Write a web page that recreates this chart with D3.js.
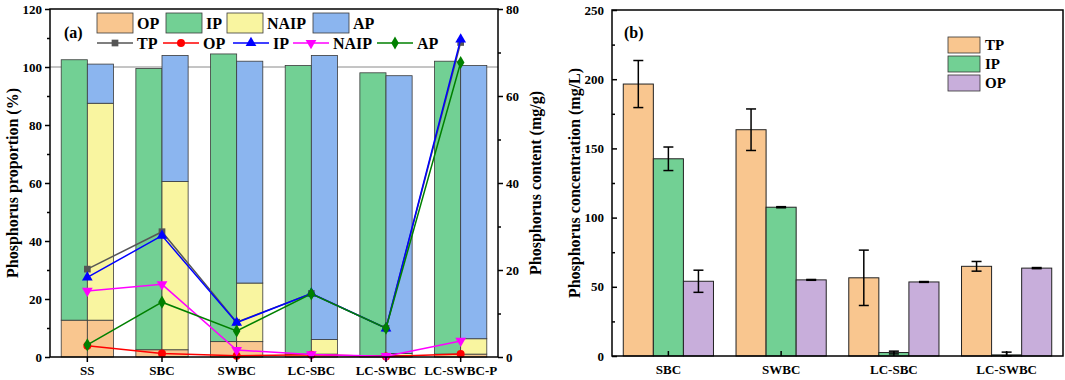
<!DOCTYPE html>
<html><head><meta charset="utf-8">
<script src="https://cdn.jsdelivr.net/npm/d3@7"></script>
<style>
html,body{margin:0;padding:0;background:#fff;}
svg text{font-family:"Liberation Serif","Times New Roman",serif;font-weight:bold;fill:#000;}
</style></head>
<body>
<svg id="chart" width="1065" height="380"></svg>
<script>
// ---------- Panel (a) data ----------
const catsA = ["SS","SBC","SWBC","LC-SBC","LC-SWBC","LC-SWBC-P"];
const opPct   = [12.7, 2.5, 5.3, 1.0, 0.5, 1.0];
const ipPct   = [89.8, 97.0, 99.2, 99.5, 97.5, 101.0];
const naipPct = [74.8, 58.0, 20.2, 5.0, 0.7, 5.3];
const apPct   = [13.5, 43.5, 76.5, 98.0, 95.8, 94.2];
const tpCont   = [20.2, 28.8, 8.0, 14.6, 6.6, 72.3];
const opCont   = [2.6, 0.8, 0.3, 0.5, 0.1, 0.7];
const ipCont   = [18.3, 27.9, 7.9, 14.6, 6.6, 73.0];
const naipCont = [15.2, 16.7, 1.6, 0.6, 0.2, 3.7];
const apCont   = [2.8, 12.6, 6.0, 14.5, 6.6, 67.7];
const leftTicksA = [0, 20, 40, 60, 80, 100, 120];
const rightTicksA = [0, 20, 40, 60, 80];

// ---------- Panel (b) data ----------
const catsB = ["SBC","SWBC","LC-SBC","LC-SWBC"];
const seriesB = ["TP","IP","OP"];
const tpConc = [196.5, 163.5, 56.5, 64.8];
const tpErr  = [17, 15, 20, 3.5];
const ipConc = [142.5, 107.5, 2.5, 0.8];
const ipErr  = [8.5, 0.4, 1, 2];
const opConc = [54, 55, 53.5, 63.5];
const opErr  = [8, 0.3, 0.3, 0.4];
const ticksB = [0, 50, 100, 150, 200, 250];

const C = {op:"#F9C68F", ip:"#72D094", naip:"#F9F5A0", ap:"#8BB5EF", opB:"#C8AEDB"};

const svg = d3.select("#chart");

// ================= Panel (a) =================
const A = {l:50, r:498, t:9, b:357};
const xA = d3.scaleBand().domain(catsA).range([A.l, A.r]).padding(0);
const yA = d3.scaleLinear().domain([0,120]).range([A.b, A.t]);
const y2A = d3.scaleLinear().domain([0,80]).range([A.b, A.t]);
const gA = svg.append("g");
const bw = xA.bandwidth()*0.35;
const cx = c => xA(c) + xA.bandwidth()/2;

// reference line at 100
gA.append("line").attr("x1",A.l).attr("x2",A.r).attr("y1",yA(100)).attr("y2",yA(100))
  .attr("stroke","#8a8a8a").attr("stroke-width",1);

// bars: left bar (OP + IP), right bar (OP + NAIP + AP)
const stackRect = (x0, lo, hi, fill) => gA.append("rect")
  .attr("x", x0).attr("width", bw)
  .attr("y", yA(hi)).attr("height", yA(lo)-yA(hi))
  .attr("fill", fill).attr("stroke","#3a3a3a").attr("stroke-width",0.8);
catsA.forEach((c,i) => {
  const xl = cx(c) - bw, xr = cx(c);
  stackRect(xl, 0, opPct[i], C.op);
  stackRect(xl, opPct[i], opPct[i]+ipPct[i], C.ip);
  stackRect(xr, 0, opPct[i], C.op);
  stackRect(xr, opPct[i], opPct[i]+naipPct[i], C.naip);
  stackRect(xr, opPct[i]+naipPct[i], opPct[i]+naipPct[i]+apPct[i], C.ap);
});

// lines
const lineSeries = [
  {name:"TP", vals:tpCont, color:"#555555", sym:d3.symbolSquare, rot:0, size:45},
  {name:"OP", vals:opCont, color:"#ff0000", sym:d3.symbolCircle, rot:0, size:50},
  {name:"IP", vals:ipCont, color:"#0000ff", sym:d3.symbolTriangle, rot:0, size:50},
  {name:"NAIP", vals:naipCont, color:"#ff00ff", sym:d3.symbolTriangle, rot:180, size:50},
  {name:"AP", vals:apCont, color:"#008000", sym:d3.symbolDiamond, rot:0, size:50}
];
const lineGen = d3.line().x((d,i)=>cx(catsA[i])).y(d=>y2A(d));
lineSeries.forEach(s => {
  gA.append("path").attr("d", lineGen(s.vals)).attr("fill","none")
    .attr("stroke", s.color).attr("stroke-width",1.5);
  s.vals.forEach((v,i) => {
    gA.append("path").attr("d", d3.symbol(s.sym, s.size)())
      .attr("transform",`translate(${cx(catsA[i])},${y2A(v)}) rotate(${s.rot})`)
      .attr("fill", s.color);
  });
});

// frame
gA.append("rect").attr("x",A.l).attr("y",A.t).attr("width",A.r-A.l).attr("height",A.b-A.t)
  .attr("fill","none").attr("stroke","#000").attr("stroke-width",1.5);

// axes (outward ticks)
gA.append("g").attr("transform",`translate(${A.l},0)`)
  .call(d3.axisLeft(yA).tickValues(leftTicksA).tickSize(5).tickPadding(3));
gA.append("g").attr("transform",`translate(${A.l},0)`)
  .call(d3.axisLeft(yA).tickValues(d3.range(10,120,20)).tickSize(3).tickFormat(""));
gA.append("g").attr("transform",`translate(${A.r},0)`)
  .call(d3.axisRight(y2A).tickValues(rightTicksA).tickSize(5).tickPadding(3));
gA.append("g").attr("transform",`translate(${A.r},0)`)
  .call(d3.axisRight(y2A).tickValues(d3.range(10,80,20)).tickSize(3).tickFormat(""));
gA.append("g").attr("transform",`translate(0,${A.b})`)
  .call(d3.axisBottom(xA).tickSize(5).tickPadding(4));
gA.selectAll(".domain").remove();
gA.selectAll(".tick line").attr("stroke","#000").attr("stroke-width",1.5);
gA.selectAll(".tick text").style("font-size","13px");

// axis titles
gA.append("text").attr("transform",`translate(18,${(A.t+A.b)/2}) rotate(-90)`)
  .attr("text-anchor","middle").style("font-size","16px").text("Phosphorus proportion (%)");
gA.append("text").attr("transform",`translate(541,${(A.t+A.b)/2}) rotate(-90)`)
  .attr("text-anchor","middle").style("font-size","16px").text("Phosphorus content (mg/g)");
gA.append("text").attr("x",64).attr("y",38).style("font-size","16px").text("(a)");

// legend row 1 (bars)
const leg1 = [["OP",C.op,97],["IP",C.ip,166],["NAIP",C.naip,227],["AP",C.ap,313]];
leg1.forEach(([t,f,x]) => {
  gA.append("rect").attr("x",x).attr("y",13).attr("width",36).attr("height",20)
    .attr("fill",f).attr("stroke","#3a3a3a").attr("stroke-width",0.8);
  gA.append("text").attr("x",x+40).attr("y",29).style("font-size","16px").text(t);
});
// legend row 2 (lines)
const leg2x = [97,163,233,293,377];
lineSeries.forEach((s,i) => {
  const x = leg2x[i];
  gA.append("line").attr("x1",x).attr("x2",x+36).attr("y1",43).attr("y2",43)
    .attr("stroke",s.color).attr("stroke-width",1.5);
  gA.append("path").attr("d", d3.symbol(s.sym, s.size)())
    .attr("transform",`translate(${x+18},43) rotate(${s.rot})`).attr("fill",s.color);
  gA.append("text").attr("x",x+40).attr("y",49).style("font-size","16px").text(s.name);
});

// ================= Panel (b) =================
const B = {l:612, r:1063, t:10, b:356};
const xB = d3.scaleBand().domain(catsB).range([B.l, B.r]).padding(0);
const yB = d3.scaleLinear().domain([0,250]).range([B.b, B.t]);
const x1 = d3.scaleBand().domain(seriesB).range([-0.4*xB.bandwidth(), 0.4*xB.bandwidth()]);
const gB = svg.append("g");
const dataB = {TP:[tpConc,tpErr,C.op], IP:[ipConc,ipErr,C.ip], OP:[opConc,opErr,C.opB]};
catsB.forEach((c,i) => {
  const cc = xB(c) + xB.bandwidth()/2;
  seriesB.forEach(s => {
    const [v,e,f] = dataB[s];
    const x0 = cc + x1(s);
    gB.append("rect").attr("x",x0).attr("width",x1.bandwidth())
      .attr("y",yB(v[i])).attr("height",yB(0)-yB(v[i]))
      .attr("fill",f).attr("stroke","#222").attr("stroke-width",1);
    const ex = x0 + x1.bandwidth()/2;
    const lo = Math.max(0, v[i]-e[i]), hi = v[i]+e[i];
    gB.append("line").attr("x1",ex).attr("x2",ex).attr("y1",yB(lo)).attr("y2",yB(hi))
      .attr("stroke","#000").attr("stroke-width",1.5);
    [lo,hi].forEach(t => gB.append("line").attr("x1",ex-5).attr("x2",ex+5)
      .attr("y1",yB(t)).attr("y2",yB(t)).attr("stroke","#000").attr("stroke-width",1.5));
  });
});
gB.append("rect").attr("x",B.l).attr("y",B.t).attr("width",B.r-B.l).attr("height",B.b-B.t)
  .attr("fill","none").attr("stroke","#000").attr("stroke-width",1.5);
gB.append("g").attr("transform",`translate(${B.l},0)`)
  .call(d3.axisLeft(yB).tickValues(ticksB).tickSize(-5).tickPadding(8));
gB.append("g").attr("transform",`translate(${B.l},0)`)
  .call(d3.axisLeft(yB).tickValues(d3.range(25,250,50)).tickSize(-3).tickFormat(""));
gB.append("g").attr("transform",`translate(0,${B.b})`)
  .call(d3.axisBottom(xB).tickSize(-5).tickPadding(9));
gB.selectAll(".domain").remove();
gB.selectAll(".tick line").attr("stroke","#000").attr("stroke-width",1.5);
gB.selectAll(".tick text").style("font-size","13px");
gB.append("text").attr("transform",`translate(580,${(B.t+B.b)/2}) rotate(-90)`)
  .attr("text-anchor","middle").style("font-size","16px").text("Phosphorus concentration (mg/L)");
gB.append("text").attr("x",624).attr("y",38).style("font-size","16px").text("(b)");
seriesB.forEach((s,i) => {
  const y = 37 + i*19;
  gB.append("rect").attr("x",948).attr("y",y).attr("width",32).attr("height",16)
    .attr("fill",dataB[s][2]).attr("stroke","#333").attr("stroke-width",0.8);
  gB.append("text").attr("x",985).attr("y",y+13).style("font-size","15px").text(s);
});
</script>
</body></html>
